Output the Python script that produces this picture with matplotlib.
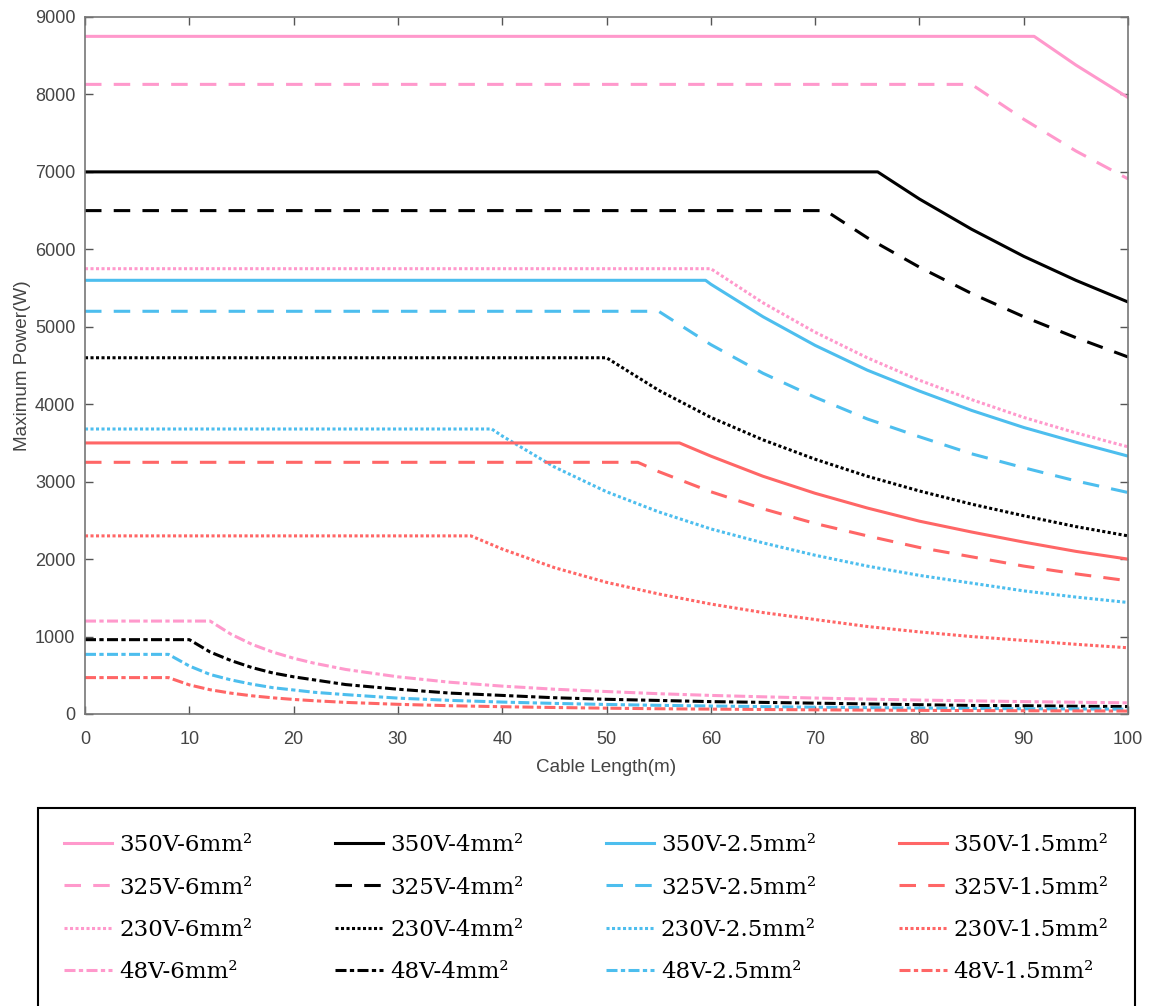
import matplotlib
matplotlib.use("Agg")
import matplotlib.pyplot as plt

# cable length grid (m) at which the curves were read
dlugosci = [0, 5, 8, 10, 12, 14, 16, 18, 20, 22, 25, 30, 35, 40, 45, 50,
            55, 60, 65, 70, 75, 80, 85, 90, 95, 100]

# labels, knee lengths (m) where the curve leaves the flat part, values (W)
etykiety = ['350V-6mm²', '325V-6mm²', '230V-6mm²', '48V-6mm²',
            '350V-4mm²', '325V-4mm²', '230V-4mm²', '48V-4mm²',
            '350V-2.5mm²', '325V-2.5mm²', '230V-2.5mm²', '48V-2.5mm²',
            '350V-1.5mm²', '325V-1.5mm²', '230V-1.5mm²', '48V-1.5mm²']

kolana = [91, 85, 60, 12, 76, 71, 50, 10, 59.5, 55, 39, 8, 57, 53, 37, 8]

p_350_6 = [8750] * 24 + [8380, 7960]
p_325_6 = [8130] * 23 + [7680, 7270, 6910]
p_230_6 = [5750] * 18 + [5310, 4930, 4600, 4310, 4060, 3830, 3630, 3450]
p_48_6 = [1200, 1200, 1200, 1200, 1200, 1030, 900, 800, 720, 655, 575, 480,
          410, 360, 320, 290, 262, 240, 222, 206, 192, 180, 170, 160, 152, 144]

p_350_4 = [7000] * 21 + [6650, 6260, 5910, 5600, 5320]
p_325_4 = [6500] * 20 + [6150, 5770, 5430, 5130, 4860, 4610]
p_230_4 = [4600] * 16 + [4180, 3830, 3540, 3290, 3070, 2880, 2710, 2560, 2420, 2300]
p_48_4 = [960, 960, 960, 960, 800, 690, 600, 530, 480, 440, 380, 320,
          270, 240, 210, 190, 175, 160, 150, 140, 130, 120, 110, 107, 100, 96]

p_350_25 = [5600] * 17 + [5550, 5130, 4760, 4440, 4170, 3920, 3700, 3510, 3330]
p_325_25 = [5200] * 17 + [4770, 4400, 4090, 3810, 3580, 3360, 3180, 3010, 2860]
p_230_25 = [3680] * 13 + [3590, 3190, 2870, 2610, 2390, 2210, 2050, 1910, 1790,
                          1690, 1590, 1510, 1440]
p_48_25 = [770, 770, 770, 620, 510, 440, 385, 340, 310, 280, 250, 205,
           176, 154, 137, 123, 112, 103, 95, 88, 82, 77, 72, 68, 65, 62]

p_350_15 = [3500] * 17 + [3330, 3070, 2850, 2660, 2490, 2350, 2220, 2100, 2000]
p_325_15 = [3250] * 16 + [3130, 2870, 2650, 2460, 2300, 2150, 2030, 1910, 1810, 1720]
p_230_15 = [2300] * 13 + [2130, 1890, 1700, 1550, 1420, 1310, 1220, 1130, 1060,
                          1000, 950, 900, 855]
p_48_15 = [470, 470, 470, 376, 313, 269, 235, 209, 188, 171, 150, 125,
           107, 94, 84, 75, 68, 63, 58, 54, 50, 47, 44, 42, 40, 38]

moce = [p_350_6, p_325_6, p_230_6, p_48_6,
        p_350_4, p_325_4, p_230_4, p_48_4,
        p_350_25, p_325_25, p_230_25, p_48_25,
        p_350_15, p_325_15, p_230_15, p_48_15]

kolory = ['#FF99CC', '#000000', '#4DBEEE', '#FF6666']
style = ['-', (0, (5.4, 4)), (0, (1, 0.8)), (0, (3.6, 1.1, 1.4, 1.1))]

fig = plt.figure(figsize=(11.5, 10.06), dpi=100)
ax = fig.add_axes([85 / 1150, 1 - 714 / 1006, 1043 / 1150, 697 / 1006])

linie = []
for i, (nazwa, kolano, moc) in enumerate(zip(etykiety, kolana, moce)):
    # put the knee point in between the grid points
    xs = [d for d in dlugosci if d < kolano] + [kolano] + [d for d in dlugosci if d > kolano]
    ys = [m for d, m in zip(dlugosci, moc) if d < kolano] + [moc[0]] + \
         [m for d, m in zip(dlugosci, moc) if d > kolano]
    l, = ax.plot(xs, ys, color=kolory[i // 4], linestyle=style[i % 4],
                 linewidth=2.2, label=nazwa)
    linie.append(l)

ax.set_xlim(0, 100)
ax.set_ylim(0, 9000)
ax.set_xticks(range(0, 101, 10))
ax.set_yticks(range(0, 9001, 1000))
ax.tick_params(direction='in', top=True, right=True, length=6, width=1,
               color='#555555', labelcolor='#444444', labelsize=13)
ax.tick_params(axis='x', pad=12)
ax.tick_params(axis='y', pad=7)
for s in ax.spines.values():
    s.set_color('#777777')
    s.set_linewidth(1.2)
for t in ax.get_xticklabels() + ax.get_yticklabels():
    t.set_family('Liberation Sans')

ax.set_xlabel('Cable Length(m)', family='Liberation Sans', fontsize=13.6,
              color='#444444', labelpad=8)
ax.set_ylabel('Maximum Power(W)', family='Liberation Sans', fontsize=13.6,
              color='#444444', labelpad=3)

# legend is filled row by row: 350V, 325V, 230V, 48V
kolejnosc = []
for kol in range(4):
    for wiersz in range(4):
        kolejnosc.append(kol * 4 + wiersz)
leg = fig.legend([linie[k] for k in kolejnosc], [etykiety[k] for k in kolejnosc],
                 ncol=4, mode='expand', loc='upper left',
                 bbox_to_anchor=(38 / 1150, 0.0, 1097 / 1150, 198 / 1006),
                 borderaxespad=0,
                 prop={'family': 'DejaVu Serif', 'size': 16.5},
                 fancybox=False, framealpha=1, edgecolor='black',
                 handlelength=2.1, handletextpad=0.3, labelspacing=0.88,
                 borderpad=1.15, columnspacing=1.0)
leg.get_frame().set_linewidth(1.5)

fig.savefig('out.png', dpi=100)
